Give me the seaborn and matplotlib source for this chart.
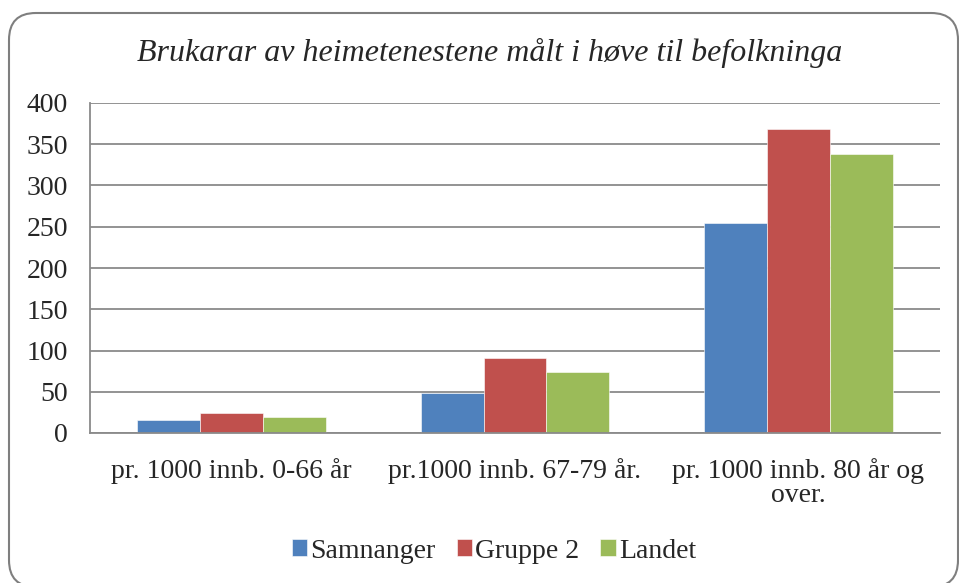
import numpy as np
import pandas as pd
import matplotlib
matplotlib.use("Agg")
import matplotlib.pyplot as plt
from matplotlib.patches import FancyBboxPatch
import seaborn as sns

# data
categories = ["pr. 1000 innb. 0-66 år", "pr.1000 innb. 67-79 år.", "pr. 1000 innb. 80 år og\nover."]
series = ["Samnanger", "Gruppe 2", "Landet"]
samnanger = [16, 48, 255]
gruppe2 = [24, 91, 369]
landet = [19, 74, 338]
colors = ["#4F81BD", "#C0504D", "#9BBB59"]
yticks = [0, 50, 100, 150, 200, 250, 300, 350, 400]

df = pd.DataFrame({
    "kategori": categories * 3,
    "serie": np.repeat(series, 3),
    "verdi": samnanger + gruppe2 + landet,
})

sns.set_style("white")
plt.rcParams["font.family"] = ["Liberation Serif", "DejaVu Serif"]

fig = plt.figure(figsize=(9.59, 5.83), dpi=100)
ax = fig.add_axes([90 / 959, 1 - 433 / 583, 850 / 959, 330 / 583])

sns.barplot(data=df, x="kategori", y="verdi", hue="serie", palette=colors,
            width=0.667, saturation=1, ax=ax, legend=True,
            edgecolor="white", linewidth=0.4)

ax.set_ylim(0, 400)
ax.set_xlim(-0.5, 2.5)
ax.set_yticks(yticks)
ax.yaxis.grid(True, color="#8a8a8a", linewidth=1.3)
ax.set_axisbelow(True)
ax.set_xlabel("")
ax.set_ylabel("")

for side in ["top", "right"]:
    ax.spines[side].set_visible(False)
for side in ["left", "bottom"]:
    ax.spines[side].set_color("#8a8a8a")
    ax.spines[side].set_linewidth(1.3)

ax.tick_params(axis="y", length=5, width=1.3, color="#8a8a8a", labelsize=20, pad=11)
ax.tick_params(axis="x", which="major", length=0, labelsize=20, pad=18)
ax.set_xticks([-0.5, 0.5, 1.5, 2.5], minor=True)
ax.tick_params(axis="x", which="minor", length=6, width=1.3, color="#8a8a8a")
for lbl in ax.get_xticklabels():
    lbl.set_horizontalalignment("center")
    lbl.set_multialignment("center")
    lbl.set_linespacing(0.95)

fig.text(490 / 959, 1 - 53 / 583, "Brukarar av heimetenestene målt i høve til befolkninga",
         ha="center", va="center", fontsize=23, style="italic")

handles, labels = ax.get_legend_handles_labels()
ax.legend_.remove()
fig.legend(handles, labels, loc="center", bbox_to_anchor=(494 / 959, 1 - 551 / 583),
           ncol=3, frameon=False, fontsize=20, handlelength=0.55, handleheight=0.55,
           handletextpad=0.12, columnspacing=0.75)

frame = FancyBboxPatch((9 / 959, 1 - 587 / 583), 949 / 959, 574 / 583,
                       boxstyle="round,pad=0,rounding_size=0.028",
                       transform=fig.transFigure, facecolor="none",
                       edgecolor="#7f7f7f", linewidth=1.5, mutation_aspect=959 / 583)
fig.patches.append(frame)

fig.savefig("out.png", dpi=100)
